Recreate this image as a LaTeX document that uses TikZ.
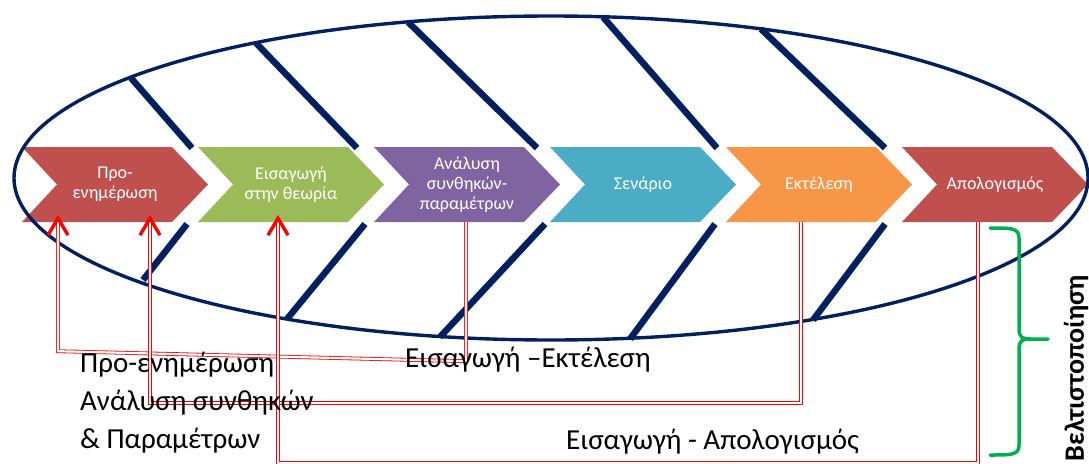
\documentclass[tikz,border=0pt]{standalone}
\usepackage{fontspec}
\setmainfont{Carlito}
\usetikzlibrary{calc}
\definecolor{navy}{HTML}{002060}
\definecolor{chred}{HTML}{C0504D}
\definecolor{chgreen}{HTML}{9BBB59}
\definecolor{chpurple}{HTML}{8064A2}
\definecolor{chblue}{HTML}{4BACC6}
\definecolor{chorange}{HTML}{F79646}
\definecolor{bracegreen}{HTML}{00B050}
\definecolor{linkred}{HTML}{FF0000}
\begin{document}
\begin{tikzpicture}[x=1pt,y=-1pt,
  chev/.style={minimum width=186pt, minimum height=75pt, inner sep=0pt,
    text=white, align=center, font=\fontsize{18}{20}\selectfont,
    path picture={\fill[#1]
      (path picture bounding box.north west)
      -- ([xshift=-36pt]path picture bounding box.north east)
      -- (path picture bounding box.east)
      -- ([xshift=-36pt]path picture bounding box.south east)
      -- (path picture bounding box.south west)
      -- ([xshift=35pt]path picture bounding box.west) -- cycle;}},
  bone/.style={navy, line width=6.5pt},
  link/.style={draw=linkred, line width=0.8pt, double=white, double distance=2.2pt},
  head/.style={linkred, line width=3.4pt, line join=miter},
  label/.style={font=\fontsize{29}{38}\selectfont, text=black, inner sep=0pt},
  brace/.style={bracegreen, line width=3.5pt, line cap=round}
]
\useasboundingbox (0,0) rectangle (1089,463);

% process chevrons
\node[chev=chred]    (c1) at (115,184.5) {Προ-\\ενημέρωση};
\node[chev=chgreen]  (c2) at (291,184.5) {Εισαγωγή\\στην θεωρία};
\node[chev=chpurple] (c3) at (467,184.5) {Ανάλυση\\συνθηκών-\\παραμέτρων};
\node[chev=chblue]   (c4) at (643,184.5) {Σενάριο};
\node[chev=chorange] (c5) at (819,184.5) {Εκτέλεση};
\node[chev=chred]    (c6) at (995,184.5) {Απολογισμός};

% fishbone outline
\draw[navy, line width=3.4pt] (551,178) ellipse [x radius=537pt, y radius=162pt];
\draw[bone] (131,78) -- (192,148);
\draw[bone] (256,43) -- (357,148);
\draw[bone] (408,22) -- (537,148);
\draw[bone] (603,17) -- (717,148);
\draw[bone] (761,29) -- (885,148);
\draw[bone] (187,224) -- (143,280);
\draw[bone] (365,224) -- (287,319);
\draw[bone] (545,224) -- (440,337);
\draw[bone] (715,224) -- (630,339);
\draw[bone] (885,224) -- (813,320);

% feedback links
\coordinate (a1) at ([xshift=-57pt]c1.south);
\coordinate (a2) at ([xshift=35pt]c1.south);
\coordinate (a3) at ([xshift=-13pt]c2.south);
\draw[link] ([xshift=-1pt]c3.south) -- ++(0,139) -- ($(a1)+(0,129)$) -- (a1);
\draw[link] ([xshift=-18pt]c5.south) -- ++(0,181) -| (a2);
\draw[link] ([xshift=-17pt]c6.south) -- ++(0,241) -| (a3);
\foreach \p in {a1,a2,a3}
  \draw[head] ([xshift=-10pt,yshift=-13pt]\p) -- ([yshift=4pt]\p) -- ([xshift=10pt,yshift=-13pt]\p);

% labels
\node[label, anchor=base west, align=left] (t1) at (80,448)
  {Προ-ενημέρωση\\Ανάλυση συνθηκών\\\& Παραμέτρων};
\node[label, anchor=base west] (t2) at (405,367) {Εισαγωγή –Εκτέλεση};
\node[label, anchor=base west] (t3) at (566,449) {Εισαγωγή - Απολογισμός};

% optimisation brace
\draw[brace] (990,228) .. controls (1012,228) and (1019,228) .. (1019,238)
  -- (1019,329) .. controls (1019,337) and (1022,339) .. (1030,339) -- (1048,339);
\draw[brace] (990,455) .. controls (1012,455) and (1019,455) .. (1019,445)
  -- (1019,349) .. controls (1019,341) and (1022,339) .. (1030,339);
\node[rotate=90, font=\bfseries\fontsize{28}{30}\selectfont, inner sep=0pt] (t4) at (1076,368) {Βελτιστοποίηση};
\end{tikzpicture}
\end{document}
